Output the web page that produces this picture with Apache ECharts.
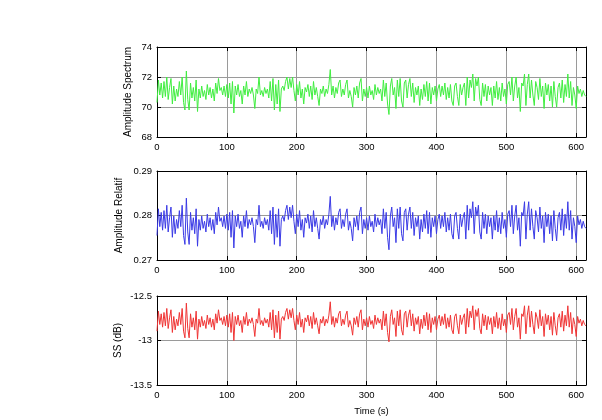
<!DOCTYPE html>
<html>
<head>
<meta charset="utf-8">
<script src="https://cdn.jsdelivr.net/npm/echarts@6/dist/echarts.min.js"></script>
<style>html,body{margin:0;padding:0;background:#fff}#c{width:602px;height:420px}</style>
</head>
<body>
<div id="c"></div>
<script>
// sampling step of the recordings (seconds)
const T_STEP = 2;
const X_MAX = 614;
const xTicks = [0, 100, 200, 300, 400, 500, 600];

const ampSpectrum = [
70.3,71.8,70.8,71.6,70.6,71.7,70.7,72.0,70.5,71.3,
71.9,70.2,71.4,70.4,71.2,70.7,71.7,70.8,72.0,70.3,
69.8,72.4,70.5,69.8,71.6,70.6,71.3,70.4,71.8,69.7,
71.2,70.6,71.4,70.7,71.1,70.5,71.5,70.8,71.3,70.6,
71.2,70.4,71.6,70.9,71.9,71.1,71.3,70.8,71.4,70.7,
71.5,70.6,71.6,70.2,71.7,69.6,71.4,70.8,71.5,70.7,
71.1,70.2,71.4,70.8,71.7,70.7,71.2,70.9,71.3,70.8,
69.9,71.2,70.9,72.0,70.8,71.1,70.7,71.3,70.9,71.2,
70.6,71.7,70.4,71.9,69.8,71.5,70.2,71.8,69.7,71.2,
71.4,71.1,71.7,72.0,71.2,71.9,71.3,72.0,71.1,70.4,
71.5,70.8,71.7,70.6,71.2,70.2,71.3,71.0,71.5,70.7,
71.4,70.5,71.7,70.8,71.3,70.7,70.1,71.2,70.9,71.4,
70.7,71.2,70.9,71.5,72.5,70.8,71.4,70.6,71.3,70.9,
71.6,71.8,70.7,71.2,70.8,71.5,71.8,70.6,71.1,70.7,
70.0,71.3,70.8,71.4,70.6,71.6,71.9,70.4,71.2,70.7,
71.3,70.6,71.4,70.8,71.1,70.5,71.5,70.8,71.3,70.9,
71.2,70.4,71.8,70.7,71.6,70.2,69.5,71.4,71.9,70.8,
71.3,69.9,71.8,70.7,71.9,70.4,70.0,71.6,71.8,70.6,
71.5,71.9,70.7,71.6,70.3,71.3,70.8,71.4,70.1,71.2,
70.5,71.5,70.7,71.7,70.4,71.6,70.2,71.3,70.8,71.4,
70.4,71.2,71.5,70.7,71.4,70.8,71.6,70.5,71.3,70.6,
71.5,70.4,70.1,71.4,71.6,70.7,70.1,71.5,70.8,71.3,
71.6,70.1,72.0,70.6,71.8,71.3,72.2,70.4,71.9,71.4,
72.0,70.5,70.1,71.6,70.7,71.5,70.4,71.4,70.8,71.3,
70.1,71.4,70.6,71.7,70.5,71.3,70.4,71.6,70.7,71.2,
70.2,71.5,71.7,70.8,72.0,70.4,71.4,72.0,70.6,71.3,
69.7,71.6,71.4,72.2,70.1,71.5,72.2,70.6,71.8,70.8,
70.1,71.7,71.3,70.5,71.9,70.7,71.4,69.9,71.6,70.8,
71.5,70.4,71.4,70.0,71.7,70.7,70.0,71.3,71.6,70.6,
71.8,70.3,71.5,70.7,72.2,70.6,71.7,70.1,71.3,70.8,
69.9,71.4,70.9,71.2,70.7,71.1,70.8,70.7
];

const ampRelatif = [
0.2755,0.2815,0.2775,0.2807,0.2767,0.2811,0.2771,0.2823,0.2763,0.2795,
0.2819,0.2751,0.2799,0.2759,0.2791,0.2771,0.2811,0.2775,0.2823,0.2755,
0.2735,0.2839,0.2763,0.2735,0.2807,0.2767,0.2795,0.2759,0.2815,0.2731,
0.2791,0.2767,0.2799,0.2771,0.2787,0.2763,0.2803,0.2775,0.2795,0.2767,
0.2791,0.2759,0.2807,0.2779,0.2819,0.2787,0.2795,0.2775,0.2799,0.2771,
0.2803,0.2767,0.2807,0.2751,0.2811,0.2727,0.2799,0.2775,0.2803,0.2771,
0.2787,0.2751,0.2799,0.2775,0.2811,0.2771,0.2791,0.2779,0.2795,0.2775,
0.2739,0.2791,0.2779,0.2823,0.2775,0.2787,0.2771,0.2795,0.2779,0.2791,
0.2767,0.2811,0.2759,0.2819,0.2735,0.2803,0.2751,0.2815,0.2731,0.2791,
0.2799,0.2787,0.2811,0.2823,0.2791,0.2819,0.2795,0.2823,0.2787,0.2759,
0.2803,0.2775,0.2811,0.2767,0.2791,0.2751,0.2795,0.2783,0.2803,0.2771,
0.2799,0.2763,0.2811,0.2775,0.2795,0.2771,0.2747,0.2791,0.2779,0.2799,
0.2771,0.2791,0.2779,0.2803,0.2843,0.2775,0.2799,0.2767,0.2795,0.2779,
0.2807,0.2815,0.2771,0.2791,0.2775,0.2803,0.2815,0.2767,0.2787,0.2771,
0.2743,0.2795,0.2775,0.2799,0.2767,0.2807,0.2819,0.2759,0.2791,0.2771,
0.2795,0.2767,0.2799,0.2775,0.2787,0.2763,0.2803,0.2775,0.2795,0.2779,
0.2791,0.2759,0.2815,0.2771,0.2807,0.2751,0.2723,0.2799,0.2819,0.2775,
0.2795,0.2739,0.2815,0.2771,0.2819,0.2759,0.2743,0.2807,0.2815,0.2767,
0.2803,0.2819,0.2771,0.2807,0.2755,0.2795,0.2775,0.2799,0.2747,0.2791,
0.2763,0.2803,0.2771,0.2811,0.2759,0.2807,0.2751,0.2795,0.2775,0.2799,
0.2759,0.2791,0.2803,0.2771,0.2799,0.2775,0.2807,0.2763,0.2795,0.2767,
0.2803,0.2759,0.2747,0.2799,0.2807,0.2771,0.2747,0.2803,0.2775,0.2795,
0.2807,0.2747,0.2823,0.2767,0.2815,0.2795,0.2831,0.2759,0.2819,0.2799,
0.2823,0.2763,0.2747,0.2807,0.2771,0.2803,0.2759,0.2799,0.2775,0.2795,
0.2747,0.2799,0.2767,0.2811,0.2763,0.2795,0.2759,0.2807,0.2771,0.2791,
0.2751,0.2803,0.2811,0.2775,0.2823,0.2759,0.2799,0.2823,0.2767,0.2795,
0.2731,0.2807,0.2799,0.2831,0.2747,0.2803,0.2831,0.2767,0.2815,0.2775,
0.2747,0.2811,0.2795,0.2763,0.2819,0.2771,0.2799,0.2739,0.2807,0.2775,
0.2803,0.2759,0.2799,0.2743,0.2811,0.2771,0.2743,0.2795,0.2807,0.2767,
0.2815,0.2755,0.2803,0.2771,0.2831,0.2767,0.2811,0.2747,0.2795,0.2775,
0.2739,0.2799,0.2779,0.2791,0.2771,0.2787,0.2775,0.2771
];

const ssDb = [
-12.895,-12.67,-12.82,-12.70,-12.85,-12.685,-12.835,-12.64,-12.865,-12.745,
-12.655,-12.91,-12.73,-12.88,-12.76,-12.835,-12.685,-12.82,-12.64,-12.895,
-12.97,-12.58,-12.865,-12.97,-12.70,-12.85,-12.745,-12.88,-12.67,-12.985,
-12.76,-12.85,-12.73,-12.835,-12.775,-12.865,-12.715,-12.82,-12.745,-12.85,
-12.76,-12.88,-12.70,-12.805,-12.655,-12.775,-12.745,-12.82,-12.73,-12.835,
-12.715,-12.85,-12.70,-12.91,-12.685,-13.0,-12.73,-12.82,-12.715,-12.835,
-12.775,-12.91,-12.73,-12.82,-12.685,-12.835,-12.76,-12.805,-12.745,-12.82,
-12.955,-12.76,-12.805,-12.64,-12.82,-12.775,-12.835,-12.745,-12.805,-12.76,
-12.85,-12.685,-12.88,-12.655,-12.97,-12.715,-12.91,-12.67,-12.985,-12.76,
-12.73,-12.775,-12.685,-12.64,-12.76,-12.655,-12.745,-12.64,-12.775,-12.88,
-12.715,-12.82,-12.685,-12.85,-12.76,-12.91,-12.745,-12.79,-12.715,-12.835,
-12.73,-12.865,-12.685,-12.82,-12.745,-12.835,-12.925,-12.76,-12.805,-12.73,
-12.835,-12.76,-12.805,-12.715,-12.565,-12.82,-12.73,-12.85,-12.745,-12.805,
-12.70,-12.67,-12.835,-12.76,-12.82,-12.715,-12.67,-12.85,-12.775,-12.835,
-12.94,-12.745,-12.82,-12.73,-12.85,-12.70,-12.655,-12.88,-12.76,-12.835,
-12.745,-12.85,-12.73,-12.82,-12.775,-12.865,-12.715,-12.82,-12.745,-12.805,
-12.76,-12.88,-12.67,-12.835,-12.70,-12.91,-13.015,-12.73,-12.655,-12.82,
-12.745,-12.955,-12.67,-12.835,-12.655,-12.88,-12.94,-12.70,-12.67,-12.85,
-12.715,-12.655,-12.835,-12.70,-12.895,-12.745,-12.82,-12.73,-12.925,-12.76,
-12.865,-12.715,-12.835,-12.685,-12.88,-12.70,-12.91,-12.745,-12.82,-12.73,
-12.88,-12.76,-12.715,-12.835,-12.73,-12.82,-12.70,-12.865,-12.745,-12.85,
-12.715,-12.88,-12.925,-12.73,-12.70,-12.835,-12.925,-12.715,-12.82,-12.745,
-12.70,-12.925,-12.64,-12.85,-12.67,-12.745,-12.61,-12.88,-12.655,-12.73,
-12.64,-12.865,-12.925,-12.70,-12.835,-12.715,-12.88,-12.73,-12.82,-12.745,
-12.925,-12.73,-12.85,-12.685,-12.865,-12.745,-12.88,-12.70,-12.835,-12.76,
-12.91,-12.715,-12.685,-12.82,-12.64,-12.88,-12.73,-12.64,-12.85,-12.745,
-12.985,-12.70,-12.73,-12.61,-12.925,-12.715,-12.61,-12.85,-12.67,-12.82,
-12.925,-12.685,-12.745,-12.865,-12.655,-12.835,-12.73,-12.955,-12.70,-12.82,
-12.715,-12.88,-12.73,-12.94,-12.685,-12.835,-12.94,-12.745,-12.70,-12.85,
-12.67,-12.895,-12.715,-12.835,-12.61,-12.85,-12.685,-12.925,-12.745,-12.82,
-12.955,-12.73,-12.805,-12.76,-12.835,-12.775,-12.82,-12.835
];

const panels = [
  { name: 'Amplitude Spectrum', values: ampSpectrum, color: '#40ee40', min: 68, max: 74, interval: 2, yTicks: [68, 70, 72, 74], nameGap: 24 },
  { name: 'Amplitude Relatif', values: ampRelatif, color: '#3a3ae6', min: 0.27, max: 0.29, interval: 0.01, yTicks: [0.27, 0.28, 0.29], nameGap: 33 },
  { name: 'SS (dB)', values: ssDb, color: '#f03434', min: -13.5, max: -12.5, interval: 0.5, yTicks: [-13.5, -13, -12.5], nameGap: 34 }
];

const FONT = 'Liberation Sans, Arial, sans-serif';
const gridTops = [47, 171, 296];
const gridHeights = [90, 89, 89];

const grid = [], xAxis = [], yAxis = [], series = [];
panels.forEach((p, k) => {
  grid.push({ left: 157, right: 16, top: gridTops[k], height: gridHeights[k], containLabel: false });
  const common = { min: 0, max: X_MAX, interval: 100, gridIndex: k, type: 'value' };
  xAxis.push(Object.assign({}, common, {
    position: 'bottom',
    axisLine: { show: true, onZero: false, lineStyle: { color: '#000', width: 1 } },
    axisTick: { show: true, inside: true, length: 4, lineStyle: { color: '#000' } },
    axisLabel: { show: true, color: '#000', fontSize: 9.5, fontFamily: FONT, margin: 5,
      showMaxLabel: false, formatter: v => xTicks.indexOf(v) >= 0 ? String(v) : '' },
    splitLine: { show: true, lineStyle: { color: '#9a9a9a', width: 1 } },
    name: k === 2 ? 'Time (s)' : '',
    nameLocation: 'middle', nameGap: 21, nameMoveOverlap: false,
    nameTextStyle: { color: '#000', fontSize: 9.5, fontFamily: FONT }
  }));
  xAxis.push(Object.assign({}, common, {
    position: 'top',
    axisLine: { show: true, onZero: false, lineStyle: { color: '#000', width: 1 } },
    axisTick: { show: true, inside: true, length: 4, lineStyle: { color: '#000' } },
    axisLabel: { show: false },
    splitLine: { show: false }
  }));
  const ycommon = { type: 'value', min: p.min, max: p.max, interval: p.interval, gridIndex: k };
  yAxis.push(Object.assign({}, ycommon, {
    position: 'left',
    axisLine: { show: true, onZero: false, lineStyle: { color: '#000', width: 1 } },
    axisTick: { show: true, inside: true, length: 4, lineStyle: { color: '#000' } },
    axisLabel: { show: true, color: '#000', fontSize: 9.5, fontFamily: FONT, margin: 5,
      formatter: v => { const t = p.yTicks.find(q => Math.abs(q - v) < 1e-9); return t === undefined ? '' : String(t); } },
    splitLine: { show: true, lineStyle: { color: '#9a9a9a', width: 1 } },
    name: p.name, nameLocation: 'middle', nameGap: p.nameGap, nameRotate: 90, nameMoveOverlap: false,
    nameTextStyle: { color: '#000', fontSize: 10, fontFamily: FONT }
  }));
  yAxis.push(Object.assign({}, ycommon, {
    position: 'right',
    axisLine: { show: true, onZero: false, lineStyle: { color: '#000', width: 1 } },
    axisTick: { show: true, inside: true, length: 4, lineStyle: { color: '#000' } },
    axisLabel: { show: false },
    splitLine: { show: false }
  }));
  series.push({
    type: 'line',
    xAxisIndex: 2 * k, yAxisIndex: 2 * k,
    data: p.values.map((v, i) => [i * T_STEP, v]),
    showSymbol: false, symbol: 'none',
    lineStyle: { color: p.color, width: 1 },
    animation: false, silent: true, clip: true
  });
});

const chart = echarts.init(document.getElementById('c'), null, { renderer: 'canvas' });
chart.setOption({ backgroundColor: '#fff', animation: false, grid, xAxis, yAxis, series });
</script>
</body>
</html>
